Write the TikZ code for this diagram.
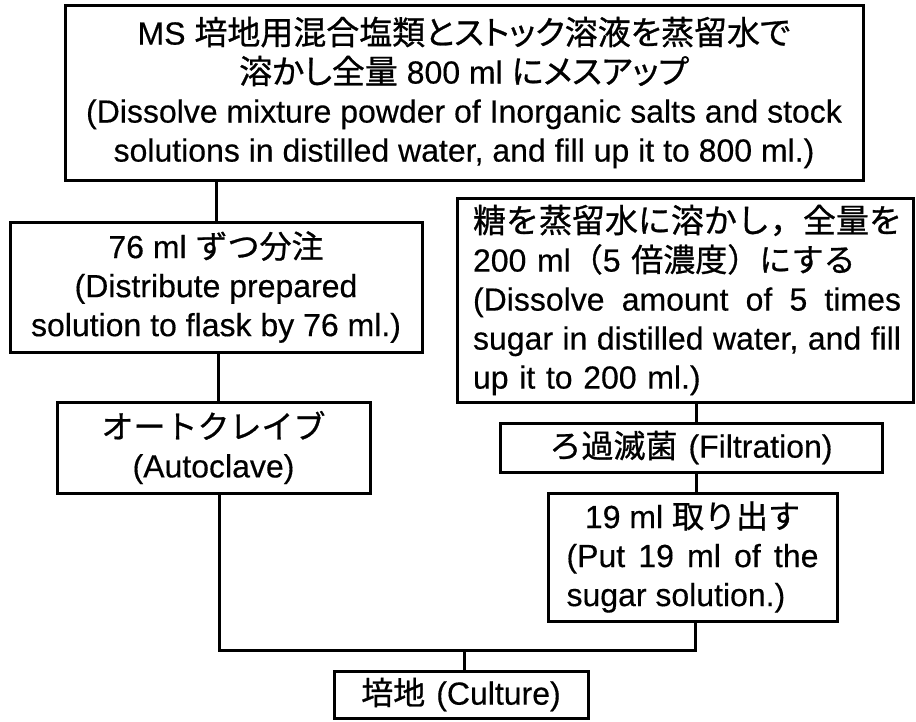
\documentclass[tikz,border=0pt]{standalone}
\usepackage{fontspec}
\setmainfont[FakeBold=0.4]{Liberation Sans}
\newfontfamily\jp[FakeBold=0.8]{Noto Sans CJK JP}
\newfontfamily\jpp[RawFeature=+palt, Scale=1.03, FakeBold=0.8]{Noto Sans CJK JP}
\begin{document}
\begin{tikzpicture}[x=1pt,y=-1pt,
  box/.style={draw, line width=3pt, inner sep=0pt, align=center,
    font=\fontsize{32}{39}\selectfont},
  link/.style={draw, line width=3pt}]
\useasboundingbox (0,0) rectangle (916,721);

\node[box, minimum width=798, minimum height=175] (top) at (464,92.5)
  {MS {\jpp 培地用混合塩類とストック溶液を蒸留水で}\\
   {\jpp 溶かし全量} 800 ml {\jpp にメスアップ}\\
   (Dissolve mixture powder of Inorganic salts and stock\\
   solutions in distilled water, and fill up it to 800 ml.)};

\node[box, minimum width=412, minimum height=130] (dist) at (216,287)
  {76 ml {\jp ずつ分注}\\
   (Distribute prepared\\
   solution to flask by 76 ml.)};

\node[box, minimum width=313, minimum height=91] (auto) at (213.5,447.5)
  {{\jp オートクレイブ}\\
   (Autoclave)};

\node[box, minimum width=456, minimum height=204, text width=432pt, align=left] (sugar) at (685,300)
  {\hspace*{4pt}{\jp\fontsize{33}{39}\selectfont 糖を蒸留水に溶かし，全量を}\\
   \hspace*{4pt}200 ml{\jp （}5 {\jp 倍濃度）にする}\\
   \hspace*{4pt}\makebox[428pt][l]{(Dissolve\hfill amount\hfill of\hfill 5\hfill times}\\
   \hspace*{4pt}\makebox[428pt][l]{sugar\hfill in\hfill distilled\hfill water,\hfill and\hfill fill}\\
   \hspace*{4pt}up it to 200 ml.)};

\node[box, minimum width=382, minimum height=49] (filt) at (691,447.5)
  {{\jp ろ過滅菌}\hspace{11pt}(Filtration)};

\node[box, minimum width=289, minimum height=128] (take) at (692.5,557)
  {19 ml {\jp 取り出す}\\
   \makebox[252pt][l]{(Put\hfill 19\hfill ml\hfill of\hfill the}\\
   \makebox[252pt][l]{sugar solution.)}};

\node[box, minimum width=254, minimum height=47] (cult) at (461,694.5)
  {{\jp 培地}\hspace{11pt}(Culture)};

\coordinate (xa) at (216,0);
\coordinate (xb) at (218,0);
\coordinate (xr) at (696,0);
\coordinate (jl) at (219,650);
\coordinate (jr) at (695,650);
\coordinate (jm) at (464,650);

\draw[link] (xa |- top.south) -- (xa |- dist.north);
\draw[link] (xb |- dist.south) -- (xb |- auto.north);
\draw[link] (xr |- sugar.south) -- (xr |- filt.north);
\draw[link] (xr |- filt.south) -- (xr |- take.north);
\draw[link] (jl |- auto.south) -- (jl) -- (jr) -- (jr |- take.south);
\draw[link] (jm) -- (jm |- cult.north);
\end{tikzpicture}
\end{document}
